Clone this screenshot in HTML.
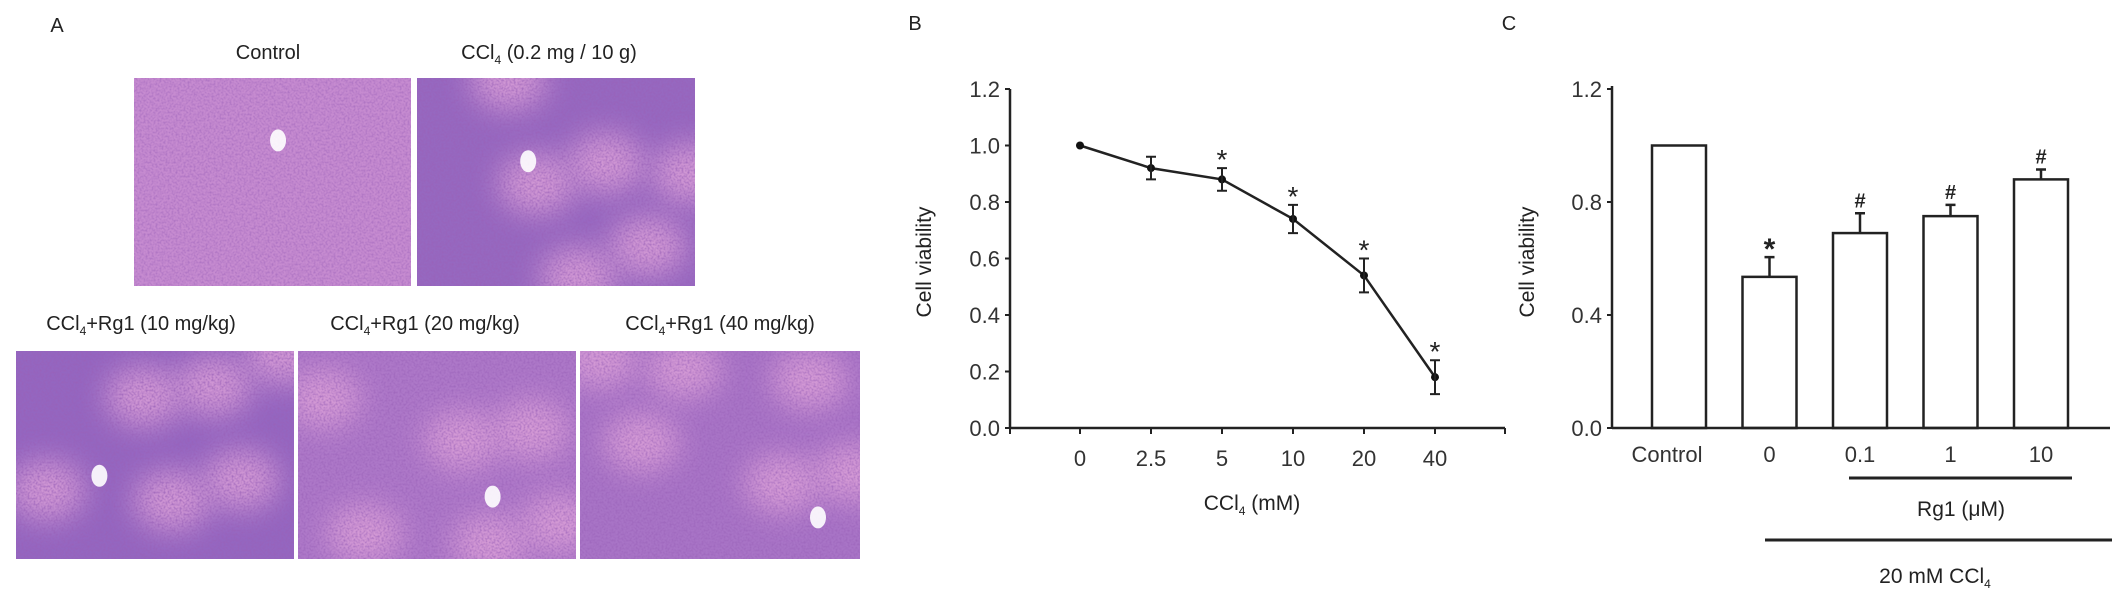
<!DOCTYPE html>
<html><head><meta charset="utf-8"><style>
html,body{margin:0;padding:0;background:#fff;}
svg{display:block;font-family:"Liberation Sans",Arial,sans-serif;}
</style></head><body>
<svg id="fig" width="2126" height="602" viewBox="0 0 2126 602" xmlns="http://www.w3.org/2000/svg">
<defs>
<filter id="tex" x="0" y="0" width="100%" height="100%">
<feTurbulence type="fractalNoise" baseFrequency="0.5" numOctaves="2" seed="3" result="n"/>
<feColorMatrix in="n" type="matrix" values="0 0 0 0 0.32  0 0 0 0 0.12  0 0 0 0 0.48  0 0 0 2.2 -0.85"/>
</filter>
<filter id="blur" x="-100%" y="-100%" width="300%" height="300%"><feGaussianBlur stdDeviation="14"/></filter>
</defs>
<g>
<text x="57" y="32" font-size="20" text-anchor="middle" fill="#222">A</text>
<text x="268" y="59" font-size="20" text-anchor="middle" fill="#222">Control</text>
<text x="549" y="59" font-size="20" text-anchor="middle" fill="#222">CCl<tspan font-size="12" dy="5">4</tspan><tspan dy="-5"> (0.2 mg / 10 g)</tspan></text>
<text x="141" y="330" font-size="20" text-anchor="middle" fill="#222">CCl<tspan font-size="12" dy="5">4</tspan><tspan dy="-5">+Rg1 (10 mg/kg)</tspan></text>
<text x="425" y="330" font-size="20" text-anchor="middle" fill="#222">CCl<tspan font-size="12" dy="5">4</tspan><tspan dy="-5">+Rg1 (20 mg/kg)</tspan></text>
<text x="720" y="330" font-size="20" text-anchor="middle" fill="#222">CCl<tspan font-size="12" dy="5">4</tspan><tspan dy="-5">+Rg1 (40 mg/kg)</tspan></text>
<g id="histo"></g>
</g>
<g id="panelB"></g>
<g id="panelC"></g>
</svg>
<script>
// ---- Panel B data ----
const bDoses = ["0","2.5","5","10","20","40"];
const bValues = [1.0,0.92,0.88,0.74,0.54,0.18];
const bErrors = [0,0.04,0.04,0.05,0.06,0.06];
const bSig = ["","","*","*","*","*"];
const bYTicks = ["0.0","0.2","0.4","0.6","0.8","1.0","1.2"];
// ---- Panel C data ----
const cGroups = ["Control","0","0.1","1","10"];
const cValues = [1.0,0.535,0.69,0.75,0.88];
const cErrors = [0,0.07,0.07,0.04,0.035];
const cSig = ["","*","#","#","#"];
const cYTicks = ["0.0","0.4","0.8","1.2"];

const NS="http://www.w3.org/2000/svg";
function mk(parent,tag,attrs,text){const e=document.createElementNS(NS,tag);for(const k in attrs)e.setAttribute(k,attrs[k]);if(text!==undefined)e.textContent=text;parent.appendChild(e);return e;}

// ---- histology images ----
const histo=document.getElementById('histo');
const imgs=[
 {x:134,y:78,w:277,h:208,base:"#c68bd0",dark:0.15,n:"control-histology-image",hx:0.52,hy:0.3},
 {x:417,y:78,w:278,h:208,base:"#9668c0",dark:0.6,n:"ccl4-histology-image",hx:0.4,hy:0.4},
 {x:16,y:351,w:278,h:208,base:"#9466c0",dark:0.7,n:"rg1-10-histology-image",hx:0.3,hy:0.6},
 {x:298,y:351,w:278,h:208,base:"#ad78c8",dark:0.45,n:"rg1-20-histology-image",hx:0.7,hy:0.7},
 {x:580,y:351,w:280,h:208,base:"#a874c6",dark:0.4,n:"rg1-40-histology-image",hx:0.85,hy:0.8}];
const blobs=[[0.3,0.3],[0.7,0.6],[0.2,0.8],[0.55,0.2],[0.85,0.25],[0.45,0.75]];
imgs.forEach((im,i)=>{
 const g=mk(histo,'g',{});
 
 
 const cp=mk(g,'clipPath',{id:'cp'+i});mk(cp,'rect',{x:im.x,y:im.y,width:im.w,height:im.h});
 const inner=mk(g,'g',{'clip-path':'url(#cp'+i+')'});
 mk(inner,'rect',{x:im.x,y:im.y,width:im.w,height:im.h,fill:im.base});
 if(im.dark>0.3) blobs.forEach((b,j)=>{mk(inner,'ellipse',{cx:im.x+im.w*((b[0]+i*0.13)%1),cy:im.y+im.h*((b[1]+i*0.21)%1),rx:38,ry:30,fill:"#dca0d8",opacity:0.85,filter:'url(#blur)'});});
 mk(inner,'rect',{x:im.x,y:im.y,width:im.w,height:im.h,filter:'url(#tex)',opacity:0.5+im.dark*0.4});
 mk(inner,'ellipse',{cx:im.x+im.w*im.hx,cy:im.y+im.h*im.hy,rx:8,ry:11,fill:"#fff",opacity:0.9});
});

// ---- Panel B ----
const B=document.getElementById('panelB');
const bx0=1010,bx1=1505,by0=428,by1=89;
const bxs=i=>1080+i*71;
const bys=v=>by0-(v/1.2)*(by0-by1);
mk(B,'text',{x:915,y:30,'font-size':20,'text-anchor':'middle',fill:'#222',},'B');
mk(B,'line',{x1:bx0,y1:by1,x2:bx0,y2:by0+1,stroke:'#222','stroke-width':2.5,});
mk(B,'line',{x1:bx0,y1:by0,x2:bx1,y2:by0,stroke:'#222','stroke-width':2.5,});
mk(B,'line',{x1:bx1,y1:by0,x2:bx1,y2:by0+6,stroke:'#222','stroke-width':2});
mk(B,'line',{x1:bx0,y1:by0,x2:bx0,y2:by0+6,stroke:'#222','stroke-width':2});
bYTicks.forEach((t)=>{const y=bys(parseFloat(t));
 const tk=mk(B,'line',{x1:bx0-5,y1:y,x2:bx0,y2:y,stroke:'#222','stroke-width':2});
 const tl=mk(B,'text',{x:bx0-10,y:y+8,'font-size':22,'text-anchor':'end',fill:'#333'},t);
 
 });
bDoses.forEach((d,i)=>{const x=bxs(i);
 mk(B,'line',{x1:x,y1:by0,x2:x,y2:by0+6,stroke:'#222','stroke-width':2});
 const tl=mk(B,'text',{x:x,y:466,'font-size':22,'text-anchor':'middle',fill:'#333'},d);
 
 });
mk(B,'polyline',{points:bValues.map((v,i)=>bxs(i)+','+bys(v)).join(' '),fill:'none',stroke:'#222','stroke-width':2.5,});
bValues.forEach((v,i)=>{const x=bxs(i),y=bys(v);
 const pt=mk(B,'circle',{cx:x,cy:y,r:4,fill:'#111'});
 
 
 if(bErrors[i]>0){const yt=bys(v+bErrors[i]),yb=bys(v-bErrors[i]);
  const eb=mk(B,'path',{d:`M${x},${yt}V${yb}M${x-5},${yt}H${x+5}M${x-5},${yb}H${x+5}`,stroke:'#222','stroke-width':2,fill:'none'});
  
  
  if(bSig[i]){const s=mk(B,'text',{x:x,y:yt+1,'font-size':28,'text-anchor':'middle',fill:'#222'},bSig[i]);
   
   }}
});
mk(B,'text',{x:1252,y:510,'font-size':21,'text-anchor':'middle',fill:'#222',}).innerHTML='CCl<tspan font-size="12" dy="5">4</tspan><tspan dy="-5"> (mM)</tspan>';
mk(B,'text',{x:0,y:0,'font-size':21,'text-anchor':'middle',fill:'#222',transform:'translate(931,262) rotate(-90)',},'Cell viability');

// ---- Panel C ----
const C=document.getElementById('panelC');
const cx0=1612,cx1=2110,cy0=428,cy1=89;
const cxs=i=>1679+i*90.5;
const cys=v=>cy0-(v/1.2)*(cy0-cy1);
const bw=54;
mk(C,'text',{x:1509,y:30,'font-size':20,'text-anchor':'middle',fill:'#222',},'C');
cValues.forEach((v,i)=>{const x=cxs(i);
 const r=mk(C,'rect',{x:x-bw/2,y:cys(v),width:bw,height:cy0-cys(v),fill:'#fff',stroke:'#222','stroke-width':2.5});
 
 
 if(cErrors[i]>0){const yt=cys(v+cErrors[i]);
  const eb=mk(C,'path',{d:`M${x},${cys(v)}V${yt}M${x-5},${yt}H${x+5}`,stroke:'#222','stroke-width':2.5,fill:'none'});
  
  }
 if(cSig[i]){const s=mk(C,'text',{x:x,y:cys(v+cErrors[i])-(cSig[i]==='*'?-2:6),'font-size':cSig[i]==='*'?30:20,'font-weight':'bold','text-anchor':'middle',fill:'#222'},cSig[i]);
  
  }
 const tl=mk(C,'text',{x:i===0?x-12:x,y:462,'font-size':22,'text-anchor':'middle',fill:'#333'},cGroups[i]);
 
 
});
mk(C,'line',{x1:cx0,y1:cy1-3,x2:cx0,y2:cy0+1,stroke:'#222','stroke-width':2.5,});
mk(C,'line',{x1:cx0,y1:cy0,x2:cx1,y2:cy0,stroke:'#222','stroke-width':2.5,});
cYTicks.forEach(t=>{const y=cys(parseFloat(t));
 mk(C,'line',{x1:cx0-5,y1:y,x2:cx0,y2:y,stroke:'#222','stroke-width':2});
 const tl=mk(C,'text',{x:cx0-10,y:y+8,'font-size':22,'text-anchor':'end',fill:'#333'},t);
 
 });
mk(C,'line',{x1:1849,y1:478,x2:2072,y2:478,stroke:'#222','stroke-width':3,});
mk(C,'text',{x:1961,y:516,'font-size':21,'text-anchor':'middle',fill:'#222',},'Rg1 (μM)');
mk(C,'line',{x1:1765,y1:540,x2:2112,y2:540,stroke:'#222','stroke-width':3,});
mk(C,'text',{x:1935,y:583,'font-size':21,'text-anchor':'middle',fill:'#222',}).innerHTML='20 mM CCl<tspan font-size="12" dy="5">4</tspan>';
mk(C,'text',{x:0,y:0,'font-size':21,'text-anchor':'middle',fill:'#222',transform:'translate(1534,262) rotate(-90)',},'Cell viability');
</script>
</body></html>
